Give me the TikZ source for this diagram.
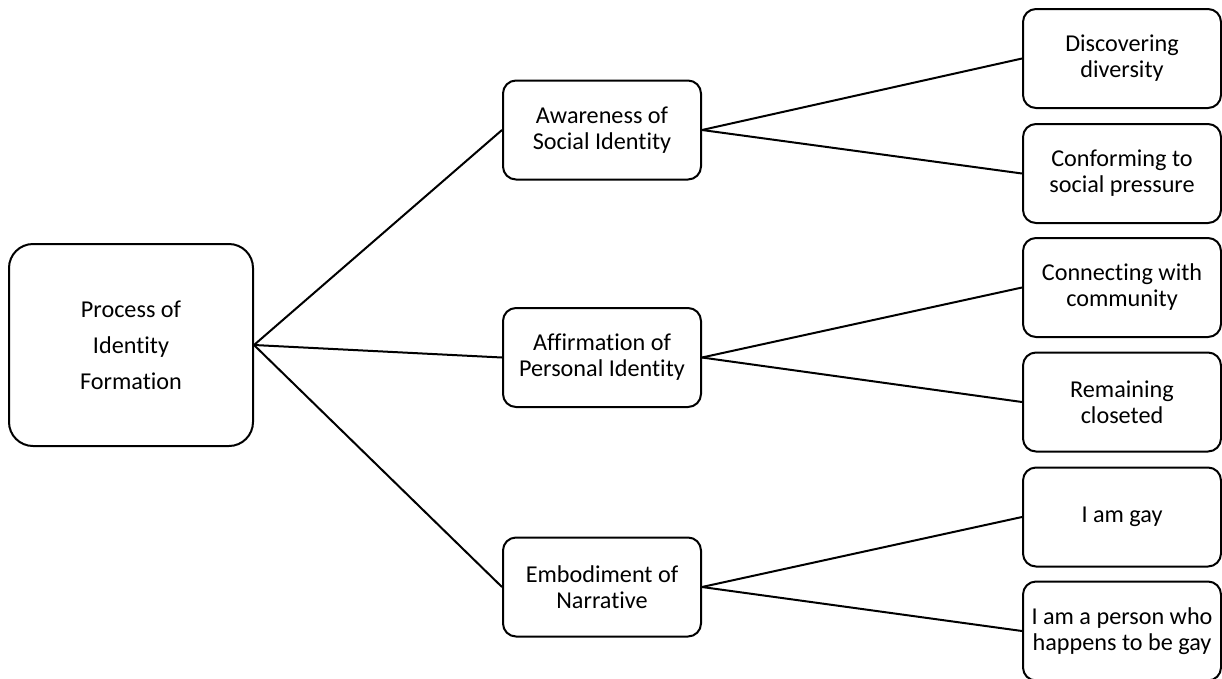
\documentclass[tikz,border=0pt]{standalone}
\usepackage{fontspec}
\setmainfont{Carlito}[RawFeature=-liga]
\begin{document}
\begin{tikzpicture}[x=1pt,y=-1pt,
  box/.style={draw=black,line width=2pt,rounded corners=13pt,align=center,
    font=\fontsize{24.2}{26}\selectfont,inner sep=0pt},
  midbox/.style={box,minimum width=198pt,minimum height=99pt},
  leafbox/.style={box,minimum width=198pt,minimum height=99pt},
  rootbox/.style={box,rounded corners=24pt,minimum width=244pt,minimum height=202pt,
    font=\fontsize{24.2}{36}\selectfont},
  link/.style={line width=2pt}]
\useasboundingbox (0,0) rectangle (1222,678);
\node[rootbox] (root) at (131,345) {Process of\\Identity\\Formation};
\node[midbox] (aw) at (602,130) {Awareness of\\Social Identity};
\node[midbox] (af) at (602,357.5) {Affirmation of\\Personal Identity};
\node[midbox] (em) at (602,587) {Embodiment of\\Narrative};
\node[leafbox] (d1) at (1122,58.5) {Discovering\\diversity};
\node[leafbox] (d2) at (1122,173.5) {Conforming to\\social pressure};
\node[leafbox] (c1) at (1122,287.5) {Connecting with\\community};
\node[leafbox] (c2) at (1122,402) {Remaining\\closeted};
\node[leafbox] (g1) at (1122,517) {I am gay};
\node[leafbox] (g2) at (1122,631) {I am a person who\\happens to be gay};
\foreach \m in {aw,af,em} \draw[link] (root.east) -- (\m.west);
\foreach \l in {d1,d2} \draw[link] (aw.east) -- (\l.west);
\foreach \l in {c1,c2} \draw[link] (af.east) -- (\l.west);
\foreach \l in {g1,g2} \draw[link] (em.east) -- (\l.west);
\end{tikzpicture}
\end{document}
